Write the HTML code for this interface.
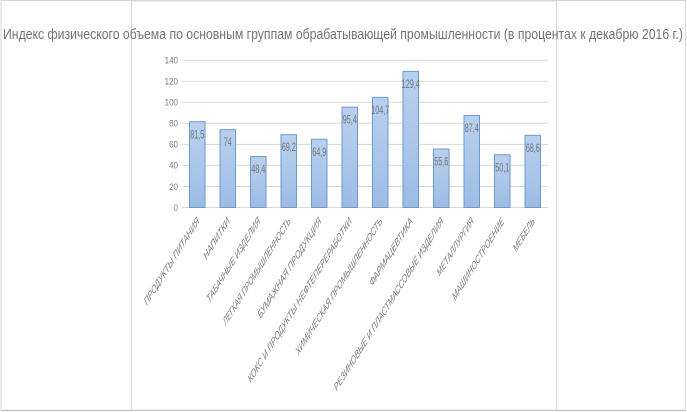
<!DOCTYPE html>
<html><head><meta charset="utf-8">
<style>
html,body{margin:0;padding:0;background:#fff;width:687px;height:412px;overflow:hidden;}
svg{display:block;}
text{font-family:"Liberation Sans","Noto Sans CJK SC",sans-serif;}
</style></head>
<body>
<svg width="687" height="412" viewBox="0 0 687 412" xmlns="http://www.w3.org/2000/svg">
<defs>
<linearGradient id="bg" x1="0" y1="0" x2="0" y2="1">
<stop offset="0" stop-color="#b9d1ef"/>
<stop offset="1" stop-color="#9dbce4"/>
</linearGradient>
</defs>
<rect x="0" y="0" width="687" height="412" fill="#fff"/>
<!-- outer border -->
<rect x="1" y="0.5" width="684.5" height="410" fill="none" stroke="#d6d6d6" stroke-width="1"/>
<line x1="1" y1="410.5" x2="685.5" y2="410.5" stroke="#c4c4c4" stroke-width="1.5"/>
<!-- inner box -->
<rect x="131.5" y="1" width="425" height="409" fill="none" stroke="#d9d9d9" stroke-width="1"/>

<!-- title -->
<text x="3" y="39" font-size="14.5" fill="#737373" textLength="680" lengthAdjust="spacingAndGlyphs">Индекс физического объема по основным группам обрабатывающей промышленности (в процентах к декабрю 2016 г.)</text>

<!-- gridlines -->
<g stroke="#d9d9d9" stroke-width="1">
<line x1="182" x2="548" y1="60.2" y2="60.2"/>
<line x1="182" x2="548" y1="81.2" y2="81.2"/>
<line x1="182" x2="548" y1="102.3" y2="102.3"/>
<line x1="182" x2="548" y1="123.3" y2="123.3"/>
<line x1="182" x2="548" y1="144.4" y2="144.4"/>
<line x1="182" x2="548" y1="165.4" y2="165.4"/>
<line x1="182" x2="548" y1="186.5" y2="186.5"/>
<line x1="182" x2="548" y1="207.5" y2="207.5"/>
</g>

<!-- y ticks -->
<g font-size="9.5" fill="#7a7a7a" text-anchor="end">
<text transform="translate(178,63.5) scale(0.84,1)">140</text>
<text transform="translate(178,84.5) scale(0.84,1)">120</text>
<text transform="translate(178,105.6) scale(0.84,1)">100</text>
<text transform="translate(178,126.6) scale(0.84,1)">80</text>
<text transform="translate(178,147.7) scale(0.84,1)">60</text>
<text transform="translate(178,168.7) scale(0.84,1)">40</text>
<text transform="translate(178,189.8) scale(0.84,1)">20</text>
<text transform="translate(178,210.8) scale(0.84,1)">0</text>
</g>

<!-- bars -->
<g fill="url(#bg)" stroke="#6b98cd" stroke-width="1">
<rect x="189.5" y="121.75" width="15.5" height="85.75"/>
<rect x="220" y="129.64" width="15.5" height="77.86"/>
<rect x="250.5" y="156.58" width="15.5" height="50.92"/>
<rect x="281" y="134.69" width="15.5" height="72.81"/>
<rect x="311.5" y="139.22" width="15.5" height="68.28"/>
<rect x="342" y="107.13" width="15.5" height="100.37"/>
<rect x="372.5" y="97.35" width="15.5" height="110.15"/>
<rect x="403" y="71.36" width="15.5" height="136.14"/>
<rect x="433.5" y="149.0" width="15.5" height="58.5"/>
<rect x="464" y="115.55" width="15.5" height="91.95"/>
<rect x="494.5" y="154.79" width="15.5" height="52.71"/>
<rect x="525" y="135.33" width="15.5" height="72.17"/>
</g>

<!-- data labels -->
<g font-size="11.5" fill="#737373" text-anchor="middle">
<text transform="translate(197.25,138.3) scale(0.63,1)">81,5</text>
<text transform="translate(227.75,146.2) scale(0.63,1)">74</text>
<text transform="translate(258.25,173.1) scale(0.63,1)">48,4</text>
<text transform="translate(288.75,151.2) scale(0.63,1)">69,2</text>
<text transform="translate(319.25,155.8) scale(0.63,1)">64,9</text>
<text transform="translate(349.75,123.7) scale(0.63,1)">95,4</text>
<text transform="translate(380.25,113.9) scale(0.63,1)">104,7</text>
<text transform="translate(410.75,87.9) scale(0.63,1)">129,4</text>
<text transform="translate(441.25,165.5) scale(0.63,1)">55,6</text>
<text transform="translate(471.75,132.1) scale(0.63,1)">87,4</text>
<text transform="translate(502.25,171.3) scale(0.63,1)">50,1</text>
<text transform="translate(532.75,151.9) scale(0.63,1)">68,6</text>
</g>

<!-- category labels -->
<g font-size="11.5" font-style="italic" fill="#7a7a7a" text-anchor="end">
<text transform="translate(199.75,222) scale(0.63,1) rotate(-45)" textLength="118.6" lengthAdjust="spacingAndGlyphs">ПРОДУКТЫ ПИТАНИЯ</text>
<text transform="translate(230.25,222) scale(0.63,1) rotate(-45)" textLength="54" lengthAdjust="spacingAndGlyphs">НАПИТКИ</text>
<text transform="translate(260.75,222) scale(0.63,1) rotate(-45)" textLength="115.3" lengthAdjust="spacingAndGlyphs">ТАБАЧНЫЕ ИЗДЕЛИЯ</text>
<text transform="translate(291.25,222) scale(0.63,1) rotate(-45)" textLength="146.9" lengthAdjust="spacingAndGlyphs">ЛЕГКАЯ ПРОМЫШЛЕННОСТЬ</text>
<text transform="translate(321.75,222) scale(0.63,1) rotate(-45)" textLength="137.4" lengthAdjust="spacingAndGlyphs">БУМАЖНАЯ ПРОДУКЦИЯ</text>
<text transform="translate(352.25,222) scale(0.63,1) rotate(-45)" textLength="228" lengthAdjust="spacingAndGlyphs">КОКС И ПРОДУКТЫ НЕФТЕПЕРЕРАБОТКИ</text>
<text transform="translate(382.75,222) scale(0.63,1) rotate(-45)" textLength="189.3" lengthAdjust="spacingAndGlyphs">ХИМИЧЕСКАЯ ПРОМЫШЛЕННОСТЬ</text>
<text transform="translate(413.25,222) scale(0.63,1) rotate(-45)" textLength="91.7" lengthAdjust="spacingAndGlyphs">ФАРМАЦЕВТИКА</text>
<text transform="translate(443.75,222) scale(0.63,1) rotate(-45)" textLength="239.8" lengthAdjust="spacingAndGlyphs">РЕЗИНОВЫЕ И ПЛАСТМАССОВЫЕ ИЗДЕЛИЯ</text>
<text transform="translate(474.25,222) scale(0.63,1) rotate(-45)" textLength="77.6" lengthAdjust="spacingAndGlyphs">МЕТАЛЛУРГИЯ</text>
<text transform="translate(504.75,222) scale(0.63,1) rotate(-45)" textLength="111.5" lengthAdjust="spacingAndGlyphs">МАШИНОСТРОЕНИЕ</text>
<text transform="translate(535.25,222) scale(0.63,1) rotate(-45)" textLength="43.2" lengthAdjust="spacingAndGlyphs">МЕБЕЛЬ</text>
</g>
</svg>
</body></html>
